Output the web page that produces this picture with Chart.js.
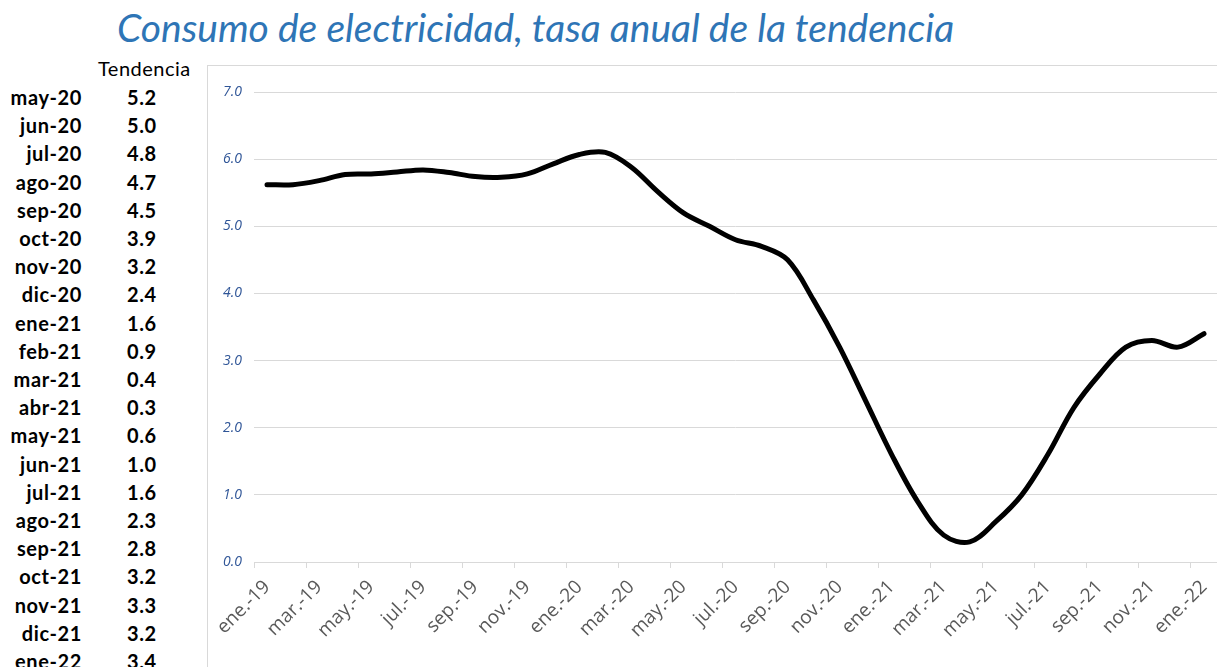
<!DOCTYPE html>
<html>
<head>
<meta charset="utf-8">
<script src="https://cdn.jsdelivr.net/npm/chart.js@4.4.1/dist/chart.umd.min.js"></script>
<style>
  body { margin: 0; width: 1217px; height: 667px; overflow: hidden; background: #fff; position: relative; font-family: Lato, "Open Sans", sans-serif; }
  #title { position: absolute; left: 117px; top: 4px; font-size: 39px; font-style: italic; color: #2E75B6; white-space: nowrap; }
  #tblHead { position: absolute; left: 98px; top: 56px; font-size: 20px; letter-spacing: 0.5px; color: #000; }
  .row { position: absolute; left: 0; width: 170px; height: 28px; line-height: 28px; font-size: 20px; letter-spacing: 0.6px; font-weight: bold; color: #000; }
  .row .m { position: absolute; right: 88px; }
  .row .v { position: absolute; left: 127px; }
  #box { position: absolute; left: 207px; top: 65px; width: 1010px; height: 602px; border-left: 1px solid #D9D9D9; border-top: 1px solid #D9D9D9; }
  #chart { position: absolute; left: 0; top: 0; }
</style>
</head>
<body>
<div id="title">Consumo de electricidad, tasa anual de la tendencia</div>
<div id="tblHead">Tendencia</div>
<div id="tbl"></div>
<div id="box"><canvas id="chart" width="1009" height="601"></canvas></div>
<script>
// meses del eje (ene-19 a ene-22)
const months = [
  "ene.-19","feb.-19","mar.-19","abr.-19","may.-19","jun.-19","jul.-19","ago.-19","sep.-19","oct.-19","nov.-19","dic.-19",
  "ene.-20","feb.-20","mar.-20","abr.-20","may.-20","jun.-20","jul.-20","ago.-20","sep.-20","oct.-20","nov.-20","dic.-20",
  "ene.-21","feb.-21","mar.-21","abr.-21","may.-21","jun.-21","jul.-21","ago.-21","sep.-21","oct.-21","nov.-21","dic.-21",
  "ene.-22"
];
// tasa anual de la tendencia
const trend = [
  5.62, 5.62, 5.68, 5.77, 5.78, 5.81, 5.84, 5.80, 5.74, 5.73, 5.78, 5.93,
  6.07, 6.10, 5.88, 5.52, 5.2, 5.0, 4.8, 4.7, 4.5, 3.9, 3.2, 2.4,
  1.6, 0.9, 0.4, 0.3, 0.6, 1.0, 1.6, 2.3, 2.8, 3.2, 3.3, 3.2,
  3.4
];
// tabla de la izquierda
const tableMonths = ["may-20","jun-20","jul-20","ago-20","sep-20","oct-20","nov-20","dic-20","ene-21","feb-21",
  "mar-21","abr-21","may-21","jun-21","jul-21","ago-21","sep-21","oct-21","nov-21","dic-21","ene-22"];
const tableValues = [5.2, 5.0, 4.8, 4.7, 4.5, 3.9, 3.2, 2.4, 1.6, 0.9, 0.4, 0.3, 0.6, 1.0, 1.6, 2.3, 2.8, 3.2, 3.3, 3.2, 3.4];
const yTicks = [0, 1, 2, 3, 4, 5, 6, 7];

const tbl = document.getElementById("tbl");
tbl.innerHTML = tableMonths.map((m, i) =>
  `<div class="row" style="top:${83 + i * 28.2}px"><span class="m">${m}</span><span class="v">${tableValues[i].toFixed(1)}</span></div>`
).join('');

const ctx = document.getElementById("chart").getContext("2d");
const grey = "#D9D9D9";

new Chart(ctx, {
  type: "line",
  data: {
    labels: months,
    datasets: [{
      label: "Tendencia",
      data: trend,
      borderColor: "#000",
      borderWidth: 5,
      borderCapStyle: "round",
      pointRadius: 0,
      tension: 0.35,
      fill: false
    }]
  },
  options: {
    responsive: false,
    animation: false,
    devicePixelRatio: 1,
    layout: { padding: { top: 26, right: 0, left: 0, bottom: 0 } },
    plugins: { legend: { display: false }, tooltip: { enabled: false } },
    scales: {
      x: {
        offset: true,
        afterFit: s => { s.height = 105; s.paddingRight = 0; },
        border: { color: grey },
        grid: {
          offset: true,
          drawOnChartArea: false,
          tickLength: 6,
          color: c => (c.index % 2 === 0 ? grey : "rgba(0,0,0,0)")
        },
        ticks: {
          autoSkip: false,
          maxRotation: 45,
          minRotation: 45,
          padding: 8,
          color: "#595959",
          font: { family: "Open Sans", size: 19 },
          callback: (v, i) => (i % 2 === 0 ? months[i] : "")
        }
      },
      y: {
        min: yTicks[0],
        max: yTicks[yTicks.length - 1],
        afterFit: s => { s.width = 46; },
        afterBuildTicks: s => { s.ticks = yTicks.map(v => ({ value: v })); },
        border: { display: false },
        grid: { color: grey, drawTicks: false },
        ticks: {
          padding: 12,
          color: "#2F5597",
          font: { family: "Open Sans", size: 14, style: "italic" },
          callback: v => v.toFixed(1)
        }
      }
    }
  }
});
</script>
</body>
</html>
